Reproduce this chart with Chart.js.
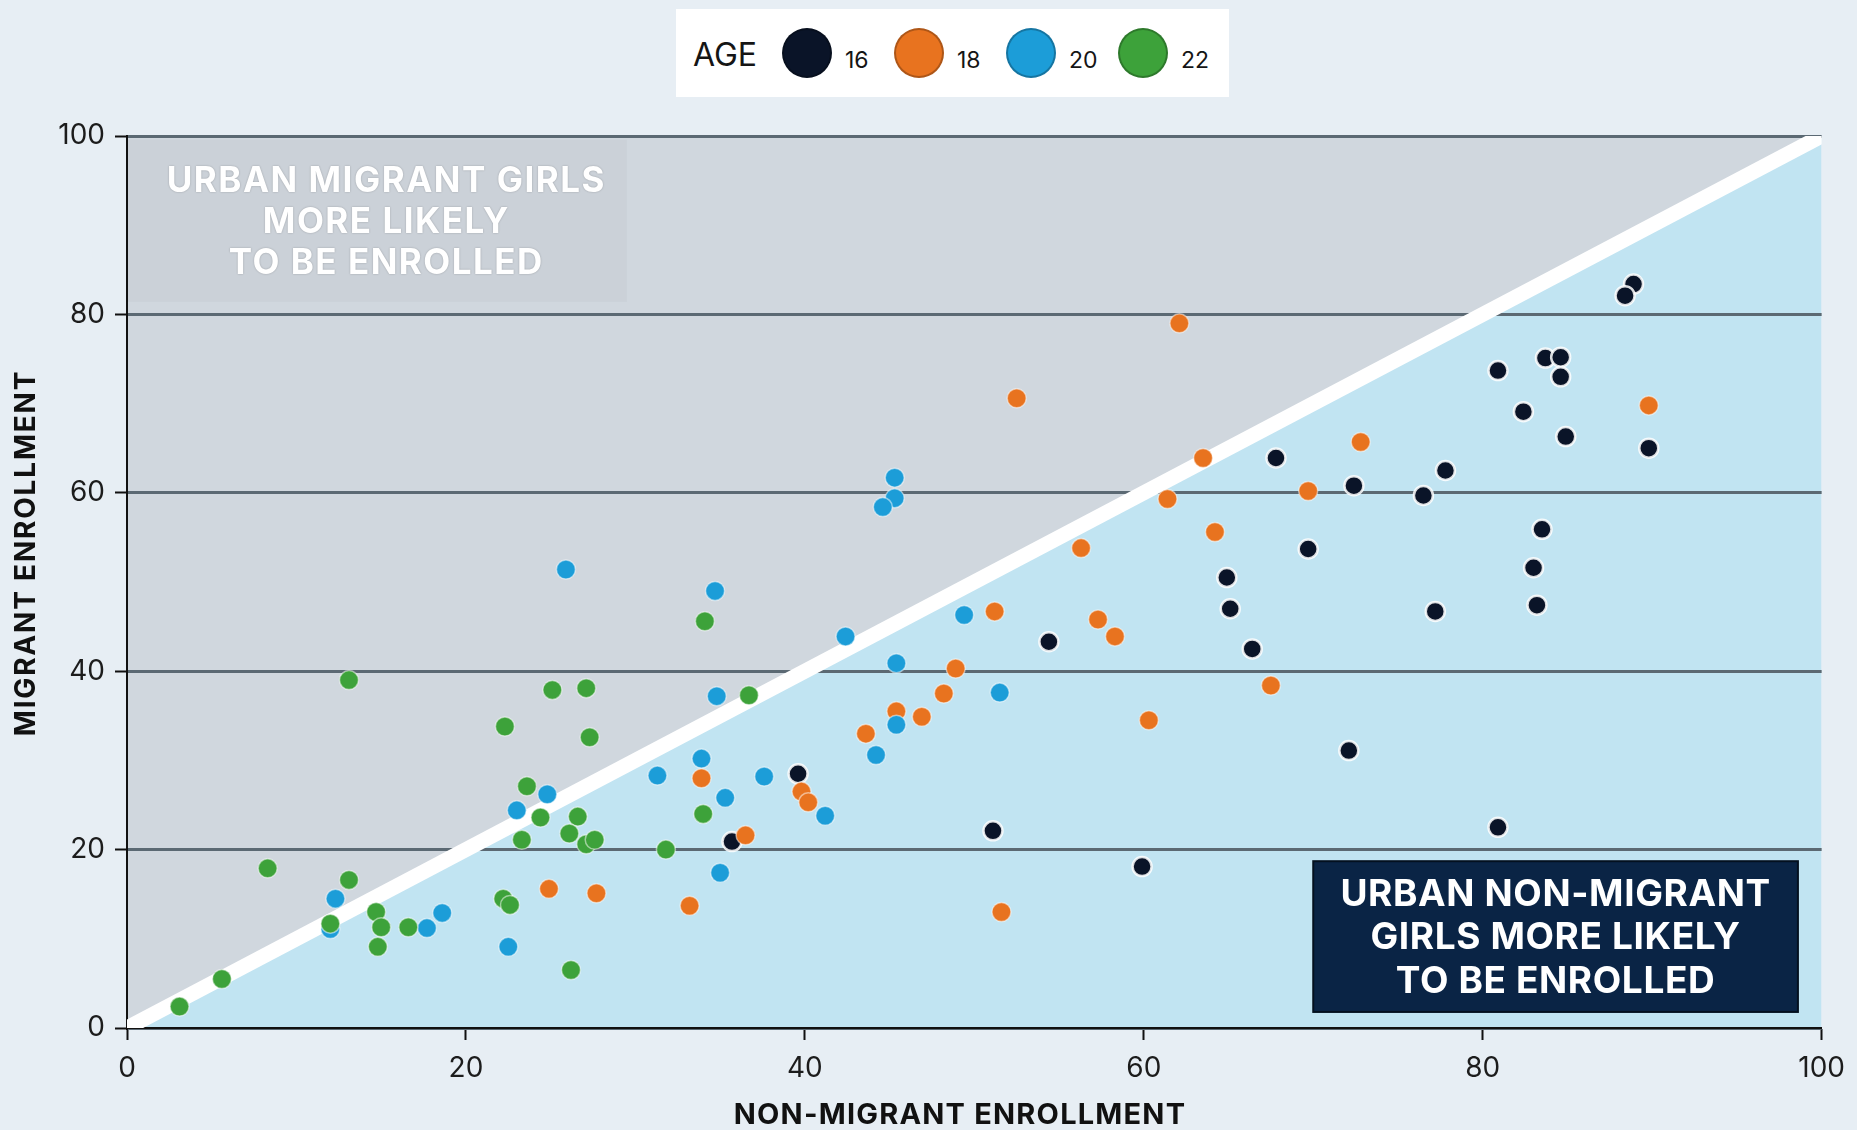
<!DOCTYPE html>
<html lang="en">
<head>
  <meta charset="UTF-8">
  <title>Migrant vs Non-Migrant Enrollment by Age</title>
  <script src="https://cdn.jsdelivr.net/npm/chart.js"></script>
  <style>
    body {
      margin: 0;
      background: #e7eef4;
      font-family: Inter, sans-serif;
    }
    #wrap {
      position: relative;
      width: 1857px;
      height: 1130px;
    }
    #legend {
      position: absolute;
      left: 676px;
      top: 9px;
      width: 553px;
      height: 88px;
      background: #fff;
      z-index: 2;
    }
    #legend span {
      position: absolute;
      color: #151515;
      line-height: 1;
    }
    #legend i {
      position: absolute;
      width: 50px;
      height: 50px;
      border-radius: 50%;
      box-sizing: border-box;
    }
  </style>
</head>
<body>
  <div id="wrap">
    <div id="legend"></div>
    <canvas id="enrollChart"></canvas>
  </div>

  <script>
    // [non-migrant enrollment, migrant enrollment] per age group
    const age16 = [
      [88.9, 83.4], [88.4, 82.1], [80.9, 73.7], [83.7, 75.1], [84.6, 75.2], [84.6, 73.0],
      [82.4, 69.1], [84.9, 66.3], [89.8, 65.0], [77.8, 62.5], [72.4, 60.8], [76.5, 59.7],
      [67.8, 63.9], [69.7, 53.7], [83.5, 55.9], [83.0, 51.6], [83.2, 47.4], [77.2, 46.7],
      [64.9, 50.5], [65.1, 47.0], [66.4, 42.5], [54.4, 43.3], [72.1, 31.1], [80.9, 22.5],
      [51.1, 22.1], [59.9, 18.1], [39.6, 28.5], [35.7, 20.9]
    ];
    const age18 = [
      [62.1, 79.0], [52.5, 70.6], [89.8, 69.8], [72.8, 65.7], [63.5, 63.9], [69.7, 60.2],
      [61.4, 59.3], [64.2, 55.6], [56.3, 53.8], [51.2, 46.7], [57.3, 45.8], [58.3, 43.9],
      [48.9, 40.3], [67.5, 38.4], [48.2, 37.5], [46.9, 34.9], [45.4, 35.5], [43.6, 33.0],
      [60.3, 34.5], [33.9, 28.0], [39.8, 26.5], [40.2, 25.3], [36.5, 21.6], [24.9, 15.6],
      [27.7, 15.1], [33.2, 13.7], [51.6, 13.0]
    ];
    const age20 = [
      [45.3, 61.7], [45.3, 59.4], [44.6, 58.4], [25.9, 51.4], [34.7, 49.0], [49.4, 46.3],
      [42.4, 43.9], [45.4, 40.9], [51.5, 37.6], [34.8, 37.2], [33.9, 30.2], [31.3, 28.3],
      [37.6, 28.2], [35.3, 25.8], [41.2, 23.8], [35.0, 17.4], [44.2, 30.6], [45.4, 34.0],
      [23.0, 24.4], [24.8, 26.2], [12.3, 14.5], [12.0, 11.1], [17.7, 11.2], [18.6, 12.9],
      [22.5, 9.1]
    ];
    const age22 = [
      [34.1, 45.6], [13.1, 39.0], [25.1, 37.9], [27.1, 38.1], [22.3, 33.8], [27.3, 32.6],
      [36.7, 37.3], [23.6, 27.1], [24.4, 23.6], [23.3, 21.1], [26.6, 23.7], [26.1, 21.8],
      [27.1, 20.6], [27.6, 21.1], [34.0, 24.0], [31.8, 20.0], [8.3, 17.9], [13.1, 16.6],
      [14.7, 13.0], [15.0, 11.3], [14.8, 9.1], [16.6, 11.3], [12.0, 11.7], [22.2, 14.5],
      [22.6, 13.8], [5.6, 5.5], [3.1, 2.4], [26.2, 6.5]
    ];
    const ageLabels = ['16', '18', '20', '22'];
    const ageColors = ['#0a1428', '#e8731f', '#1c9dd8', '#3da23a'];
    const axisTicks = [0, 20, 40, 60, 80, 100];
    const parityLine = [[0, 0], [100, 100]];
    const xTitle = 'NON-MIGRANT ENROLLMENT';
    const yTitle = 'MIGRANT ENROLLMENT';

    const toXY = arr => arr.map(([x, y]) => ({ x, y }));
    const groups = [age16, age18, age20, age22];

    // html legend
    const legend = document.getElementById('legend');
    legend.innerHTML = '<span style="left:17px;top:30px;font-size:32px;">AGE</span>';
    ageLabels.forEach((lab, i) => {
      const cx = 131 + i * 112;
      legend.innerHTML +=
        '<i style="left:' + (cx - 25) + 'px;top:19px;background:' + ageColors[i] +
        ';border:2px solid rgba(0,0,0,0.25)"></i>' +
        '<span style="left:' + (cx + 38) + 'px;top:40px;font-size:23px;">' + lab + '</span>';
    });

    const notesPlugin = {
      id: 'notes',
      beforeDatasetsDraw(chart) {
        const { ctx, scales: { x, y } } = chart;
        ctx.save();
        // top-left note
        ctx.fillStyle = 'rgba(0,0,0,0.025)';
        ctx.fillRect(x.getPixelForValue(0), y.getPixelForValue(99.6),
          x.getPixelForValue(29.5) - x.getPixelForValue(0), y.getPixelForValue(81.4) - y.getPixelForValue(99.6));
        ctx.font = 'bold 35px Inter';
        ctx.letterSpacing = '1.5px';
        ctx.textAlign = 'center';
        ctx.textBaseline = 'middle';
        ctx.fillStyle = '#ffffff';
        ctx.shadowColor = 'rgba(0,0,0,0.25)';
        ctx.shadowBlur = 2;
        ['URBAN MIGRANT GIRLS', 'MORE LIKELY', 'TO BE ENROLLED'].forEach((t, i) => {
          ctx.fillText(t, x.getPixelForValue(15.3), y.getPixelForValue(94.9 - i * 4.6));
        });
        ctx.shadowBlur = 0;
        // bottom-right note
        const bx = x.getPixelForValue(70), by = y.getPixelForValue(18.7);
        const bw = x.getPixelForValue(98.6) - bx, bh = y.getPixelForValue(1.8) - by;
        ctx.fillStyle = '#0a2445';
        ctx.fillRect(bx, by, bw, bh);
        ctx.strokeStyle = '#03101f';
        ctx.lineWidth = 2;
        ctx.strokeRect(bx, by, bw, bh);
        ctx.font = 'bold 37px Inter';
        ctx.letterSpacing = '0.6px';
        ctx.fillStyle = '#ffffff';
        ['URBAN NON-MIGRANT', 'GIRLS MORE LIKELY', 'TO BE ENROLLED'].forEach((t, i) => {
          ctx.fillText(t, x.getPixelForValue(84.3), y.getPixelForValue(14.9 - i * 4.85));
        });
        ctx.restore();
      },
      afterDraw(chart) {
        // axis titles
        const { ctx } = chart;
        ctx.save();
        ctx.fillStyle = '#111';
        ctx.textAlign = 'center';
        ctx.textBaseline = 'middle';
        ctx.font = 'bold 29px Inter';
        ctx.letterSpacing = '1.2px';
        ctx.fillText(xTitle, 960, 1115);
        ctx.translate(27, 553);
        ctx.rotate(-Math.PI / 2);
        ctx.font = 'bold 28px Inter';
        ctx.letterSpacing = '1.8px';
        ctx.fillText(yTitle, 0, 0);
        ctx.restore();
      }
    };

    const scatterSets = groups.map((g, i) => ({
      type: 'scatter',
      label: ageLabels[i],
      data: toXY(g),
      backgroundColor: ageColors[i],
      borderColor: i === 0 ? 'rgba(255,255,255,0.85)' : 'rgba(255,255,255,0.5)',
      borderWidth: i === 0 ? 2.5 : 1.5,
      pointRadius: 9.5,
      pointHoverRadius: 9.5,
      order: 4 - i
    }));

    const chart = new Chart(document.getElementById('enrollChart'), {
      type: 'scatter',
      data: {
        datasets: [
          {
            type: 'line',
            data: toXY(parityLine),
            borderWidth: 0,
            pointRadius: 0,
            fill: 'end',
            backgroundColor: '#d0d7de',
            order: 20
          },
          {
            type: 'line',
            data: toXY(parityLine),
            borderColor: '#ffffff',
            borderWidth: 15,
            pointRadius: 0,
            fill: 'start',
            backgroundColor: '#c1e4f2',
            order: 10
          },
          ...scatterSets
        ]
      },
      options: {
        responsive: true,
        maintainAspectRatio: false,
        animation: false,
        layout: { padding: { left: 0, right: 33, top: 136, bottom: 0 } },
        plugins: {
          legend: { display: false },
          tooltip: { enabled: false },
          filler: { drawTime: 'beforeDraw' }
        },
        scales: {
          x: {
            type: 'linear',
            min: 0,
            max: 100,
            afterFit: s => { s.height = 102; },
            afterBuildTicks: s => { s.ticks = axisTicks.map(v => ({ value: v })); },
            border: { display: true, color: '#111', width: 2 },
            grid: { drawOnChartArea: false, drawTicks: true, tickLength: 12, tickColor: '#111', tickWidth: 2 },
            ticks: { color: '#1c1c1c', font: { family: 'Inter', size: 28 }, padding: 12, maxRotation: 0 },
            title: { display: false }
          },
          y: {
            min: 0,
            max: 100,
            afterFit: s => { s.width = 127; },
            afterBuildTicks: s => { s.ticks = axisTicks.map(v => ({ value: v })); },
            border: { display: true, color: '#111', width: 2 },
            grid: { color: '#5b6973', lineWidth: 3, drawTicks: true, tickLength: 12, tickColor: '#111', tickWidth: 2 },
            ticks: { color: '#1c1c1c', font: { family: 'Inter', size: 28 }, padding: 10 },
            title: { display: false }
          }
        }
      },
      plugins: [notesPlugin]
    });
  </script>
</body>
</html>
